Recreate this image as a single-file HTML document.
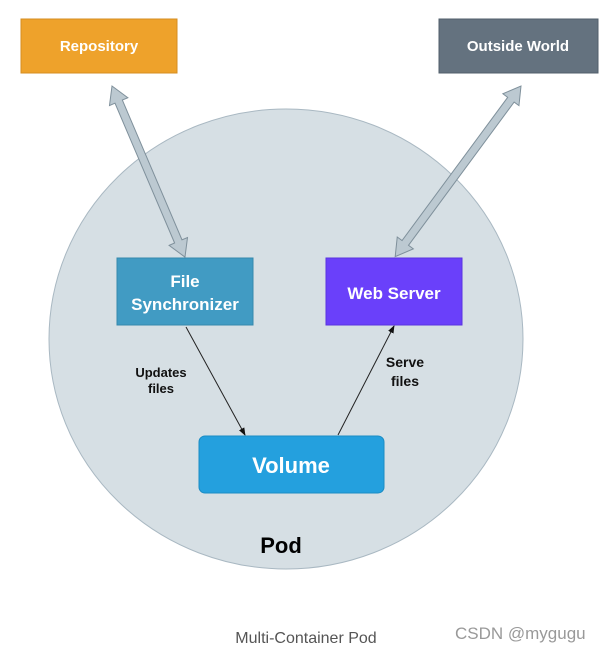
<!DOCTYPE html>
<html><head><style>
body{margin:0;background:#fff;}
svg{display:block;font-family:"Liberation Sans",Arial,sans-serif;}
</style></head><body>
<svg width="607" height="651" viewBox="0 0 607 651">
<defs>
<marker id="ah" markerWidth="8" markerHeight="8" refX="7" refY="4" orient="auto" markerUnits="userSpaceOnUse"><path d="M0,1 L8,4 L0,7 z" fill="#111"/></marker>
</defs>
<ellipse cx="286" cy="339" rx="237" ry="230" fill="#d6dfe4" stroke="#a9b8c2" stroke-width="1"/>
<rect x="21" y="19" width="156" height="54" fill="#eea22b" stroke="#d58d20"/>
<text x="99" y="51" fill="#fff" font-size="15" font-weight="bold" text-anchor="middle">Repository</text>
<rect x="439" y="19" width="159" height="54" fill="#64727f" stroke="#525f6b"/>
<text x="518" y="51" fill="#fff" font-size="15" font-weight="bold" text-anchor="middle">Outside World</text>
<g fill="#bcc9d1" stroke="#7f909b" stroke-width="1">
<polygon transform="translate(112,86) rotate(66.9)" points="0,0 17,-10 17,-4 169,-4 169,-10 186,0 169,10 169,4 17,4 17,10"/>
<polygon transform="translate(521,86) rotate(126.4)" points="0,0 17,-10 17,-4 195,-4 195,-10 212,0 195,10 195,4 17,4 17,10"/>
</g>
<rect x="117" y="258" width="136" height="67" fill="#419bc3" stroke="#3588ad"/>
<text x="185" y="287" fill="#fff" font-size="17" font-weight="bold" text-anchor="middle">File</text>
<text x="185" y="310" fill="#fff" font-size="17" font-weight="bold" text-anchor="middle">Synchronizer</text>
<rect x="326" y="258" width="136" height="67" fill="#6a40fa" stroke="#5a33e0"/>
<text x="394" y="299" fill="#fff" font-size="17" font-weight="bold" text-anchor="middle">Web Server</text>
<line x1="186" y1="327" x2="245" y2="435" stroke="#222" stroke-width="1" marker-end="url(#ah)"/>
<line x1="338" y1="435" x2="394" y2="326" stroke="#222" stroke-width="1" marker-end="url(#ah)"/>
<text x="161" y="377" fill="#111" font-size="13" font-weight="bold" text-anchor="middle">Updates</text>
<text x="161" y="393" fill="#111" font-size="13" font-weight="bold" text-anchor="middle">files</text>
<text x="405" y="367" fill="#111" font-size="14" font-weight="bold" text-anchor="middle">Serve</text>
<text x="405" y="386" fill="#111" font-size="14" font-weight="bold" text-anchor="middle">files</text>
<rect x="199" y="436" width="185" height="57" rx="6" fill="#24a0de" stroke="#1b8cc4"/>
<text x="291" y="473" fill="#fff" font-size="22" font-weight="bold" text-anchor="middle">Volume</text>
<text x="281" y="553" fill="#000" font-size="22" font-weight="bold" text-anchor="middle">Pod</text>
<text x="306" y="643" fill="#555" font-size="16" text-anchor="middle">Multi-Container Pod</text>
<text x="455" y="639" fill="#999" font-size="17">CSDN @mygugu</text>
</svg>
</body></html>
